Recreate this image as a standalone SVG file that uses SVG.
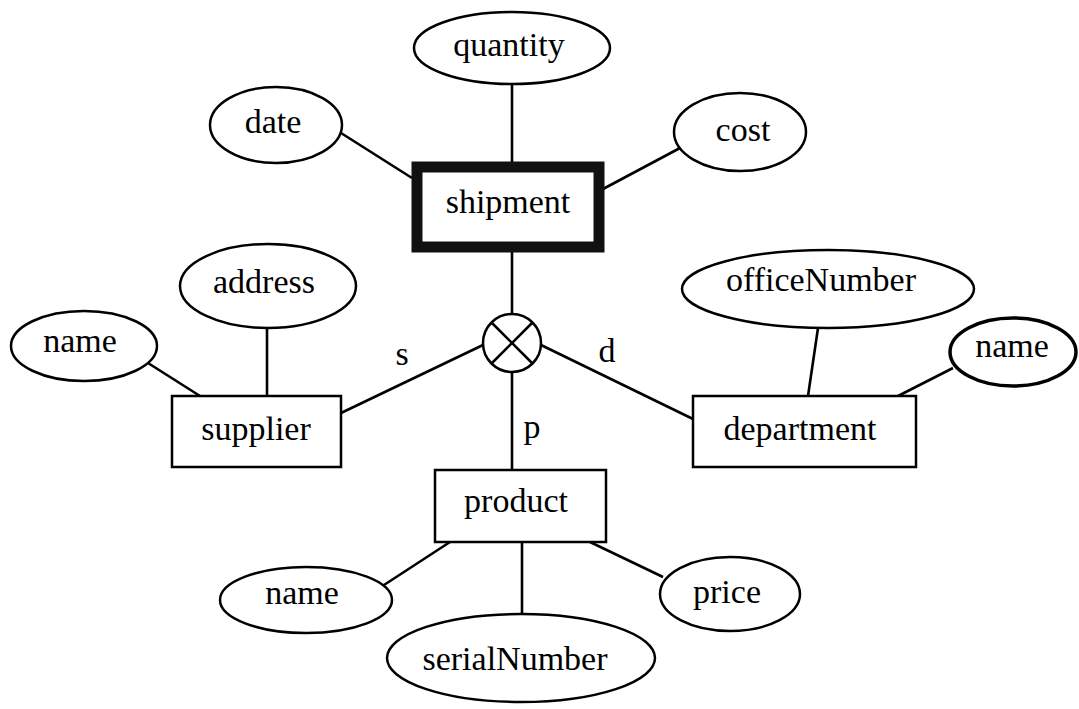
<svg xmlns="http://www.w3.org/2000/svg" width="1079" height="709" viewBox="0 0 1079 709">
<style>
.bg{fill:#fff}
.attr{fill:#fff;stroke:#000;stroke-width:2.5}
.ent{fill:#fff;stroke:#000;stroke-width:2.5}
.weak{fill:#fff;stroke:#111;stroke-width:11}
.edge{stroke:#000;stroke-width:2.6;fill:none}
.lbl{font-family:"Liberation Serif","DejaVu Serif",serif;font-size:34px;fill:#000;text-anchor:middle}
</style>
<rect class="bg" x="0" y="0" width="1079" height="709"/>
<g id="connectors">
<line class="edge" x1="512" y1="84" x2="512" y2="162"/>
<line class="edge" x1="341" y1="133" x2="412" y2="178"/>
<line class="edge" x1="680" y1="148" x2="603" y2="189"/>
<line class="edge" x1="512" y1="252" x2="512" y2="314"/>
<line class="edge" x1="483" y1="345" x2="341" y2="413"/>
<line class="edge" x1="541" y1="345" x2="693" y2="419"/>
<line class="edge" x1="512" y1="372" x2="512" y2="470"/>
<line class="edge" x1="148" y1="363" x2="200" y2="396"/>
<line class="edge" x1="267" y1="328" x2="267" y2="396"/>
<line class="edge" x1="818" y1="328" x2="808" y2="396"/>
<line class="edge" x1="953" y1="368" x2="898" y2="396"/>
<line class="edge" x1="450" y1="542" x2="384" y2="585"/>
<line class="edge" x1="522" y1="542" x2="522" y2="614"/>
<line class="edge" x1="590" y1="542" x2="663" y2="577"/>
<text class="lbl" x="402" y="365">s</text>
<text class="lbl" x="607" y="362">d</text>
<text class="lbl" x="532" y="438">p</text>
</g>
<g id="quantity"><ellipse class="attr" cx="512" cy="48" rx="98" ry="36"/><text class="lbl" x="509" y="56">quantity</text></g>
<g id="date"><ellipse class="attr" cx="276" cy="125" rx="66" ry="38"/><text class="lbl" x="273" y="133">date</text></g>
<g id="cost"><ellipse class="attr" cx="740" cy="132" rx="66" ry="39"/><text class="lbl" x="743" y="141">cost</text></g>
<g id="shipment"><rect class="weak" x="417" y="167" width="182" height="80"/><text class="lbl" x="508" y="213">shipment</text></g>
<g id="relationship"><circle class="attr" cx="512" cy="343" r="29"/><line class="edge" x1="491.5" y1="322.5" x2="532.5" y2="363.5"/><line class="edge" x1="532.5" y1="322.5" x2="491.5" y2="363.5"/></g>
<g id="address"><ellipse class="attr" cx="268" cy="286" rx="88" ry="42"/><text class="lbl" x="264" y="293">address</text></g>
<g id="supplier-name"><ellipse class="attr" cx="84" cy="346" rx="73" ry="35"/><text class="lbl" x="80" y="352">name</text></g>
<g id="supplier"><rect class="ent" x="172" y="396" width="169" height="71"/><text class="lbl" x="256" y="440">supplier</text></g>
<g id="officeNumber"><ellipse class="attr" cx="828" cy="289" rx="146" ry="39"/><text class="lbl" x="821" y="291">officeNumber</text></g>
<g id="department-name"><ellipse class="attr" cx="1013" cy="352" rx="63" ry="34" style="stroke-width:3.5"/><text class="lbl" x="1012" y="357">name</text></g>
<g id="department"><rect class="ent" x="693" y="396" width="223" height="71"/><text class="lbl" x="800" y="440">department</text></g>
<g id="product"><rect class="ent" x="435" y="470" width="171" height="72"/><text class="lbl" x="516" y="512">product</text></g>
<g id="product-name"><ellipse class="attr" cx="306" cy="600" rx="86" ry="33"/><text class="lbl" x="302" y="604">name</text></g>
<g id="serialNumber"><ellipse class="attr" cx="521" cy="658" rx="134" ry="44"/><text class="lbl" x="515" y="670">serialNumber</text></g>
<g id="price"><ellipse class="attr" cx="730" cy="594" rx="70" ry="37"/><text class="lbl" x="727" y="603">price</text></g>
</svg>
